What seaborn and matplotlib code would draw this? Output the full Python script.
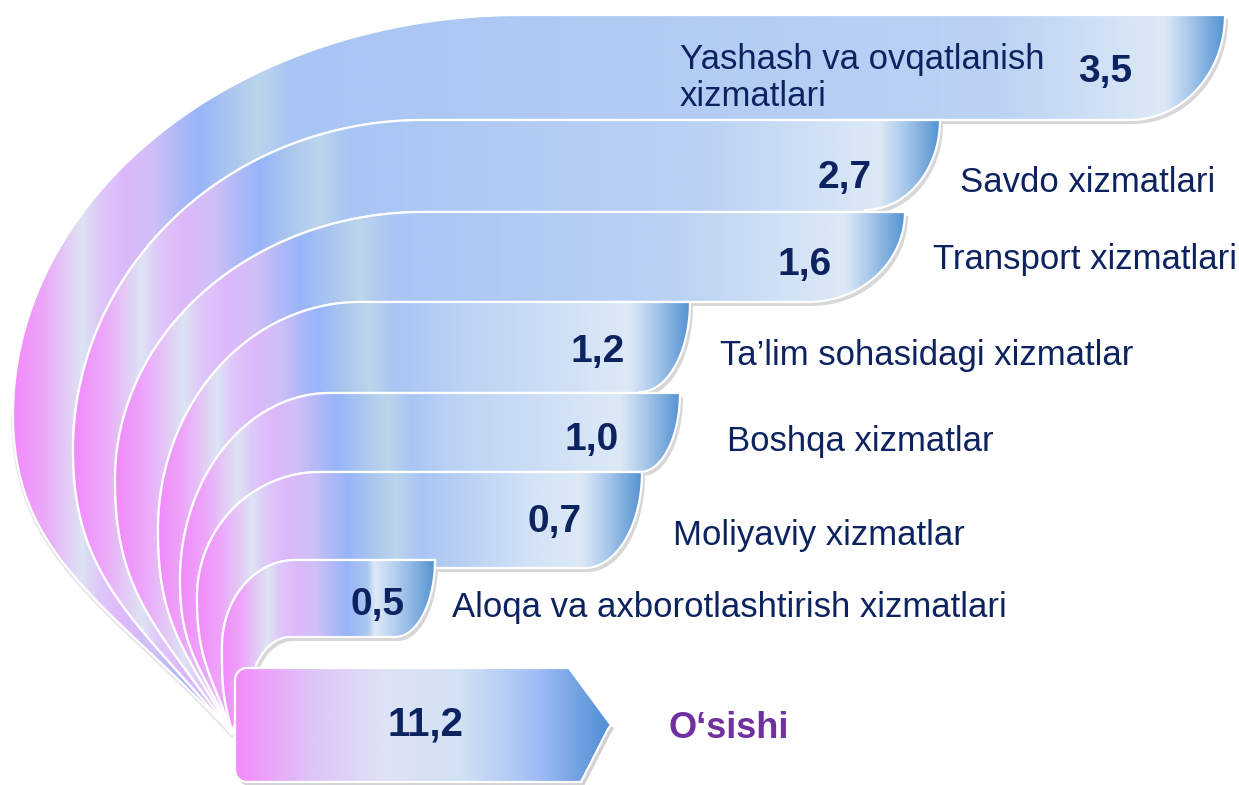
import numpy as np
import matplotlib.pyplot as plt
import seaborn as sns
from matplotlib.patches import Polygon
from matplotlib.colors import to_rgb

# data
categories = ["Yashash va ovqatlanish\nxizmatlari", "Savdo xizmatlari", "Transport xizmatlari",
              "Ta\u2019lim sohasidagi xizmatlar", "Boshqa xizmatlar", "Moliyaviy xizmatlar",
              "Aloqa va axborotlashtirish xizmatlari"]
values = [3.5, 2.7, 1.6, 1.2, 1.0, 0.7, 0.5]
total_name = "O\u2018sishi"
total_value = 11.2

# layout in pixels, y grows downward
band_top = [15, 120, 212, 302, 393, 472, 560, 637]   # last one = inner edge of the bundle
band_bottom = [120, 210, 302, 392, 472, 568, 637]
band_right = [1225, 940, 905, 690, 680, 642, 435]
corner_w = [95, 75, 97, 50, 40, 57, 40]
bend_x = [520, 423, 423, 360, 330, 320, 295, 290]
bend_left = [(13, 415), (73, 450), (115, 480), (158, 530), (180, 580), (197, 597), (222, 647), (248, 705)]
meet_angle = [47, 50, 55, 60, 65, 70, 75, 80]
meet = np.array([233.0, 735.0])

value_pos = [(1105, 72), (845, 178), (805, 265), (598, 352), (592, 440), (555, 522), (378, 605)]
label_pos = [(680, 78), (960, 183), (933, 260), (720, 355), (727, 442), (673, 535), (452, 607)]

NAVY = "#0D2360"
PURPLE = "#7030A0"

left_stops = [(0, "#F28AFB"), (30, "#ECA8F9"), (68, "#DDE4F4"), (85, "#DFC8F9"), (110, "#DDB8FB"),
              (140, "#D0C0F8"), (160, "#B4BAF6"), (186, "#98B5FA"), (215, "#A9C6EE"), (245, "#BCD5EC"),
              (275, "#A9C5F4")]
right_stops = [(-230, "#BBD2F4"), (-110, "#D3E3F6"), (-60, "#DDE9F6"), (-35, "#A9C9EC"), (0, "#5593D2")]


def fmt(v):
    return f"{v:.1f}".replace(".", ",")


def bezier(p0, p1, p2, p3, n=80):
    t = np.linspace(0, 1, n)[:, None]
    p0, p1, p2, p3 = map(np.asarray, (p0, p1, p2, p3))
    return (1 - t) ** 3 * p0 + 3 * (1 - t) ** 2 * t * p1 + 3 * (1 - t) * t ** 2 * p2 + t ** 3 * p3


def boundary(k, x_end):
    # from the meeting point up round the curve, then along the top edge to x_end
    xc, yt = bend_x[k], band_top[k]
    xl, yl = bend_left[k]
    L = np.array([xl, yl], float)
    d = np.hypot(*(meet - L))
    a = np.radians(meet_angle[k])
    lower = bezier(meet, meet - 0.46 * d * np.array([np.cos(a), np.sin(a)]),
                   [xl, yl + 0.45 * (meet[1] - yl)], L)
    th = np.linspace(np.pi, np.pi / 2, 90)
    upper = np.column_stack([xc + (xc - xl) * np.cos(th), yl - (yl - yt) * np.sin(th)])
    return np.vstack([lower, upper[1:], [[x_end, yt]]])


def band_colors(xl, xr, n=600):
    w = xr - xl
    s = min(1.0, 0.55 + w / 1700)
    lp = [(xl + s * o, c) for o, c in left_stops if xl + s * o < xr - 65]
    rp = [(xr + o, c) for o, c in right_stops if xr + o > lp[-1][0] + 5]
    stops = lp + rp
    pos = np.array([p for p, _ in stops])
    cols = np.array([to_rgb(c) for _, c in stops])
    xs = np.linspace(xl, xr, n)
    return np.stack([np.interp(xs, pos, cols[:, j]) for j in range(3)], axis=-1)[None, :, :]


sns.set_theme(style="white")
plt.rcParams["font.family"] = ["Liberation Sans", "DejaVu Sans"]

fig = plt.figure(figsize=(12.39, 7.85), dpi=100)
ax = fig.add_axes([0, 0, 1, 1])
ax.set_xlim(0, 1239)
ax.set_ylim(785, 0)
ax.axis("off")

polys = []
for i in range(len(values)):
    xr, yt, yb, rx = band_right[i], band_top[i], band_bottom[i], corner_w[i]
    outer = boundary(i, xr)
    t = np.linspace(0, np.pi / 2, 40)
    arc = np.column_stack([xr - rx + rx * np.cos(t), yt + (yb - yt) * np.sin(t)])
    if i + 1 < len(values):
        x_join = min(band_right[i + 1], xr - rx)
    else:
        x_join = xr - rx
    inner = boundary(i + 1, x_join)
    poly = np.vstack([outer, arc[1:], [[x_join, yb]], inner[::-1]])
    polys.append(poly)

# soft shadows first
for poly in polys:
    ax.add_patch(Polygon(poly + [3, 4], closed=True, fc=(0.3, 0.3, 0.35, 0.22), ec="none", zorder=1))
outer_edge = boundary(0, 600)
ax.plot(outer_edge[:80, 0] - 0.5, outer_edge[:80, 1] + 1.5, color="#9A9AA8", lw=2, alpha=0.25,
        solid_capstyle="round", zorder=1)

for i, poly in enumerate(polys):
    patch = Polygon(poly, closed=True, fc="none", ec="white", lw=1.6, zorder=2.5 + i)
    ax.add_patch(patch)
    xl = bend_left[i][0]
    img = ax.imshow(band_colors(xl, band_right[i]), extent=(xl, band_right[i], meet[1] + 5, band_top[i]),
                    aspect="auto", interpolation="bilinear", zorder=2 + i)
    img.set_clip_path(patch)

# total arrow
ax_l, ax_t, ax_b, ax_k, ax_tip = 235, 668, 782, 569, 611
r = 12
tt = np.linspace(0, np.pi / 2, 12)
arrow = np.vstack([
    [[ax_k, ax_t], [ax_tip - 3, (ax_t + ax_b) / 2 - 4], [ax_tip, (ax_t + ax_b) / 2],
     [ax_tip - 3, (ax_t + ax_b) / 2 + 4], [ax_k + 12, ax_b]],
    np.column_stack([ax_l + r - r * np.sin(tt), ax_b - r + r * np.cos(tt)]),
    np.column_stack([ax_l + r - r * np.cos(tt), ax_t + r - r * np.sin(tt)]),
])
ax.add_patch(Polygon(arrow + [3, 4], closed=True, fc=(0.3, 0.3, 0.35, 0.25), ec="none", zorder=19))
arrow_patch = Polygon(arrow, closed=True, fc="none", ec="white", lw=1.6, zorder=21)
ax.add_patch(arrow_patch)
arrow_cols = np.array(sns.blend_palette(["#F38BFB", "#DEC4F8", "#DEE2F5", "#D2E2F4", "#A3BEF7", "#4D8ED3"],
                                        n_colors=256))[None, :, :]
img = ax.imshow(arrow_cols, extent=(ax_l, ax_tip, ax_b, ax_t), aspect="auto",
                interpolation="bilinear", zorder=20)
img.set_clip_path(arrow_patch)

# texts
for v, (x, y) in zip(values, value_pos):
    ax.text(x, y, fmt(v), ha="center", va="center", fontsize=28, fontweight="bold", color=NAVY, zorder=30)
for lab, (x, y) in zip(categories, label_pos):
    ax.text(x, y, lab, ha="left", va="center", fontsize=25, color=NAVY, linespacing=1.15, zorder=30)
ax.text(425, 725, fmt(total_value), ha="center", va="center", fontsize=29, fontweight="bold",
        color=NAVY, zorder=30)
ax.text(668, 728, total_name, ha="left", va="center", fontsize=26, fontweight="bold", color=PURPLE, zorder=30)

fig.savefig("out.png", dpi=100)
